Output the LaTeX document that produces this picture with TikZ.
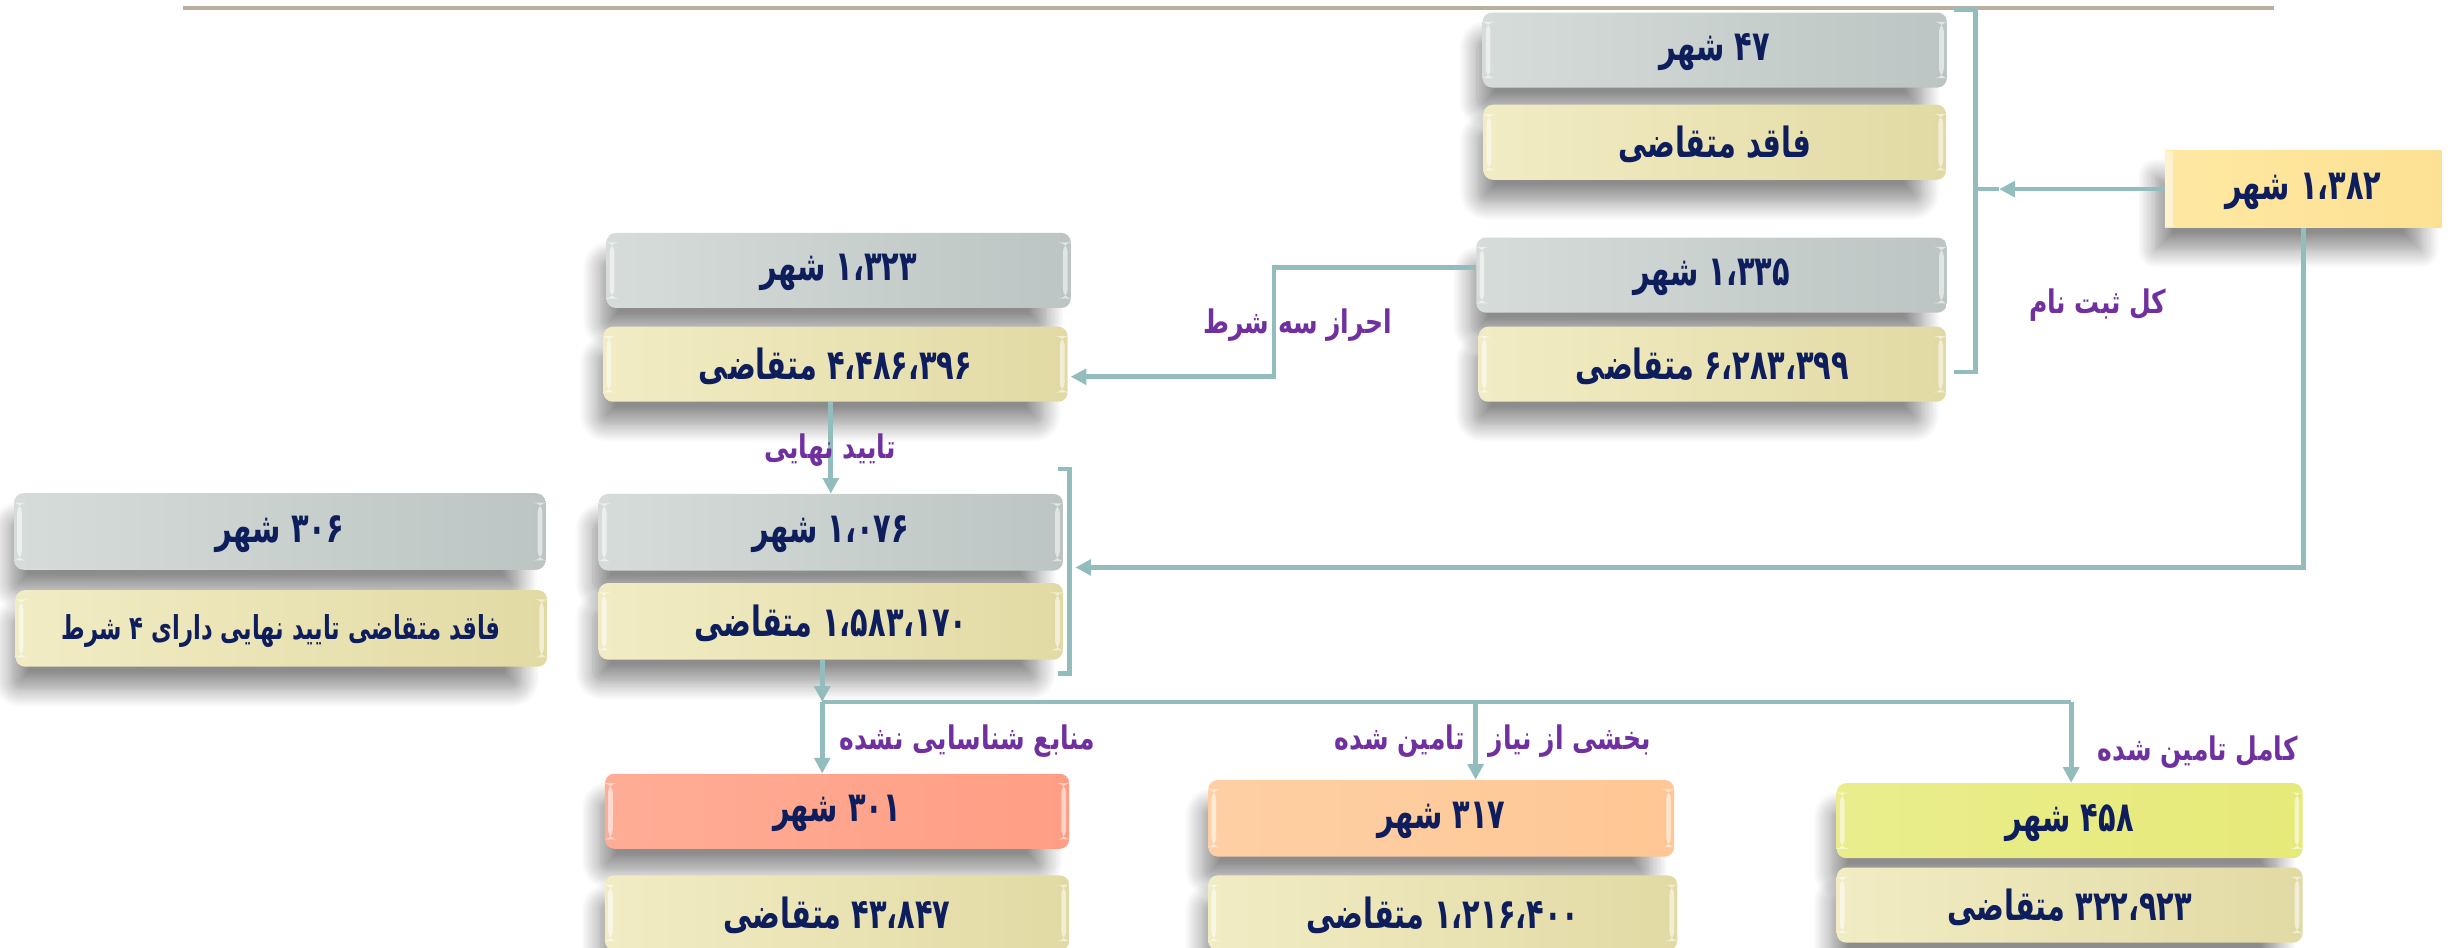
\documentclass[tikz,border=0pt]{standalone}
\usepackage{fontspec}
\usepackage{graphicx}
\newfontfamily\fa[Script=Arabic]{DejaVu Sans}
\TeXXeTstate=1
\usetikzlibrary{arrows.meta,shadows.blur}
\newcommand{\tx}[1]{\raisebox{-1.5pt}[\height][\depth]{\scalebox{0.97}[1.4]{\beginR #1\endR}}}
\newcommand{\lx}[1]{\scalebox{1}[1.3]{\beginR #1\endR}}
\definecolor{grayA}{HTML}{D6DCDA}
\definecolor{grayB}{HTML}{BCC5C3}
\definecolor{yelA}{HTML}{F1ECC4}
\definecolor{yelB}{HTML}{E2DAA4}
\definecolor{navy}{HTML}{0E1D5C}
\definecolor{purp}{HTML}{7030A0}
\definecolor{conn}{HTML}{93BDBD}
\definecolor{rulec}{HTML}{B8B09C}
\definecolor{orangeA}{HTML}{FEE8A2}
\definecolor{orangeB}{HTML}{FDE193}
\definecolor{salmon}{HTML}{FF9E84}
\definecolor{peach}{HTML}{FEC794}
\definecolor{lime}{HTML}{E6EA78}
\tikzset{
  box/.style={rounded corners=6pt, minimum height=48pt, inner sep=0pt, text=navy,
    font=\fa\bfseries\fontsize{19}{23}\selectfont,
    blur shadow={shadow xshift=-10pt, shadow yshift=-16pt, shadow scale=0.96, shadow blur radius=12pt, shadow blur steps=14, shadow opacity=45},
    path picture={
      \fill[white,opacity=0.55] ([xshift=2pt,yshift=-6pt]path picture bounding box.north west) rectangle ([xshift=5pt,yshift=6pt]path picture bounding box.south west);
      \fill[white,opacity=0.55] ([xshift=-2pt,yshift=-6pt]path picture bounding box.north east) rectangle ([xshift=-5pt,yshift=6pt]path picture bounding box.south east);
    }},
  graybox/.style={box, left color=grayA, right color=grayB},
  yelbox/.style={box, left color=yelA, right color=yelB},
  lab/.style={text=purp, inner sep=0pt, font=\fa\bfseries\fontsize{16}{19}\selectfont},
  conn/.style={draw=conn, line width=3pt},
  arr/.style={conn, -{Triangle[length=10pt,width=10pt]}},
}
\begin{document}
\begin{tikzpicture}[x=1pt,y=-1pt]
\useasboundingbox (0,0) rectangle (1568,606);
% top rule
\draw[rulec, line width=2.2pt] (117,5) -- (1455,5);

% top-right group
\node[graybox, minimum width=297pt] (n47) at (1097,32) {\tx{۴۷ شهر}};
\node[yelbox, minimum width=296pt] (nfaqed) at (1097,91) {\tx{فاقد متقاضی}};
\node[graybox, minimum width=301pt] (n1335) at (1095,176) {\tx{۱،۳۳۵ شهر}};
\node[yelbox, minimum width=299pt] (n6283) at (1095.5,233) {\tx{۶،۲۸۳،۳۹۹ متقاضی}};

% total
\node[box, rounded corners=0pt, left color=orangeA, right color=orangeB, minimum width=177pt, minimum height=49pt,
  path picture={\fill[white,opacity=0.5] (path picture bounding box.north west) rectangle ([xshift=5pt]path picture bounding box.south west);}]
  (n1382) at (1473.5,121) {\tx{۱،۳۸۲ شهر}};

% middle-left group
\node[graybox, minimum width=297pt] (n1323) at (536.5,173) {\tx{۱،۳۲۳ شهر}};
\node[yelbox, minimum width=297pt] (n4486) at (534.5,233) {\tx{۴،۴۸۶،۳۹۶ متقاضی}};
\node[graybox, minimum width=297pt, minimum height=49pt] (n1076) at (531.5,340.5) {\tx{۱،۰۷۶ شهر}};
\node[yelbox, minimum width=297pt, minimum height=49pt] (n1583) at (531.5,397.5) {\tx{۱،۵۸۳،۱۷۰ متقاضی}};
\node[graybox, minimum width=340pt, minimum height=49pt] (n306) at (179,340) {\tx{۳۰۶ شهر}};
\node[yelbox, minimum width=340pt, minimum height=49pt, font=\fa\bfseries\fontsize{15}{18}\selectfont] (nfaqed4) at (180,402) {\tx{فاقد متقاضی تایید نهایی دارای ۴ شرط}};

% bottom
\node[box, left color=salmon!85!white, right color=salmon, minimum width=297pt] (n301) at (535.5,519) {\tx{۳۰۱ شهر}};
\node[yelbox, minimum width=297pt] (n43847) at (535.5,584) {\tx{۴۳،۸۴۷ متقاضی}};
\node[box, left color=peach!85!white, right color=peach, minimum width=298pt, minimum height=49pt] (n317) at (922,523.5) {\tx{۳۱۷ شهر}};
\node[yelbox, minimum width=300pt] (n1216) at (923,584) {\tx{۱،۲۱۶،۴۰۰ متقاضی}};
\node[box, left color=lime!85!white, right color=lime, minimum width=298pt] (n458) at (1324,525) {\tx{۴۵۸ شهر}};
\node[yelbox, minimum width=298pt] (n322) at (1324,579) {\tx{۳۲۲،۹۲۳ متقاضی}};

% brackets
\coordinate (b1t) at (1264,6);
\coordinate (b1b) at (1264,238);
\coordinate (b1m) at (1264,121);
\coordinate (b1tip) at (1279,121);
\draw[conn] (1250,6) -- (b1t) -- (b1b) -- (1250,238);
\coordinate (b2t) at (684,300);
\coordinate (b2b) at (684,431);
\draw[conn] (677,300) -- (b2t) -- (b2b) -- (677,431);

% connectors
\draw[arr] (n1382.west) -- (b1tip);
\draw[conn] (b1m) -- (b1tip);
\coordinate (c2) at (1473.5,363);
\coordinate (b2tip) at (688,363);
\draw[arr] (n1382.south) -- (c2) -- (b2tip);
\coordinate (c3a) at (815,171);
\coordinate (c3b) at (815,241);
\coordinate (c3tip) at (685,241);
\draw[arr] (n1335.west |- c3a) -- (c3a) -- (c3b) -- (c3tip);
\draw[arr] (n4486.south -| n1076.north) -- (n1076.north);
\coordinate (bus0) at (526,449);
\coordinate (bus2) at (944,449);
\coordinate (bus3) at (1325,449);
\draw[arr] (n1583.south -| bus0) -- (bus0);
\draw[conn] (bus0) -- (bus3);
\draw[arr] (bus0) -- (n301.north -| bus0);
\draw[arr] (bus2) -- (n317.north -| bus2);
\draw[arr] (bus3) -- (n458.north -| bus3);

% labels
\node[lab] (lkol) at (1342,195) {\lx{کل ثبت نام}};
\node[lab] (lehraz) at (830,208) {\lx{احراز سه شرط}};
\node[lab] (ltaeed) at (531,288) {\lx{تایید نهایی}};
\node[lab] (lmanabe) at (619,474) {\lx{منابع شناسایی نشده}};
\node[lab] (lbakhsh) at (955,474) {\lx{بخشی از نیاز\hspace{10pt} تامین شده}};
\node[lab] (lkamel) at (1406,481) {\lx{کامل تامین شده}};
\end{tikzpicture}
\end{document}
